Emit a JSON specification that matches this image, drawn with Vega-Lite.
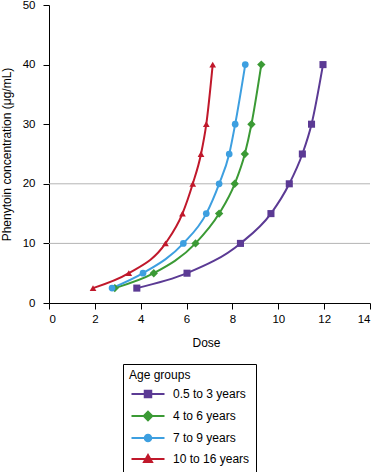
{
  "$schema": "https://vega.github.io/schema/vega-lite/v6.json",
  "width": 321,
  "height": 298,
  "autosize": {"type": "none"},
  "padding": {"left": 49, "top": 5, "right": 7, "bottom": 169},
  "background": "white",
  "config": {
    "font": "Liberation Sans",
    "view": {"stroke": null},
    "axis": {
      "domainColor": "black",
      "tickColor": "black",
      "labelColor": "black",
      "titleColor": "black",
      "labelFontSize": 11.5,
      "titleFontSize": 12,
      "titleFontWeight": "normal",
      "grid": false,
      "tickSize": 6
    },
    "legend": {
      "orient": "none",
      "legendX": 74,
      "legendY": 359,
      "titleFontSize": 12,
      "titleFontWeight": "normal",
      "titleColor": "black",
      "labelFontSize": 12,
      "labelColor": "black",
      "strokeColor": "black",
      "padding": 6,
      "symbolSize": 100,
      "symbolOffset": 13,
      "labelOffset": 19,
      "rowPadding": 5,
      "titlePadding": 6,
      "symbolStrokeWidth": 2
    }
  },
  "datasets": {
    "curves": [
      {"group": "0.5 to 3 years", "dose": 3.83, "conc": 2.5},
      {"group": "0.5 to 3 years", "dose": 6.02, "conc": 5},
      {"group": "0.5 to 3 years", "dose": 8.35, "conc": 10},
      {"group": "0.5 to 3 years", "dose": 9.68, "conc": 15},
      {"group": "0.5 to 3 years", "dose": 10.48, "conc": 20},
      {"group": "0.5 to 3 years", "dose": 11.05, "conc": 25},
      {"group": "0.5 to 3 years", "dose": 11.45, "conc": 30},
      {"group": "0.5 to 3 years", "dose": 11.95, "conc": 40},
      {"group": "4 to 6 years", "dose": 2.87, "conc": 2.5},
      {"group": "4 to 6 years", "dose": 4.57, "conc": 5},
      {"group": "4 to 6 years", "dose": 6.39, "conc": 10},
      {"group": "4 to 6 years", "dose": 7.42, "conc": 15},
      {"group": "4 to 6 years", "dose": 8.1, "conc": 20},
      {"group": "4 to 6 years", "dose": 8.54, "conc": 25},
      {"group": "4 to 6 years", "dose": 8.83, "conc": 30},
      {"group": "4 to 6 years", "dose": 9.26, "conc": 40},
      {"group": "7 to 9 years", "dose": 2.75, "conc": 2.5},
      {"group": "7 to 9 years", "dose": 4.1, "conc": 5},
      {"group": "7 to 9 years", "dose": 5.86, "conc": 10},
      {"group": "7 to 9 years", "dose": 6.86, "conc": 15},
      {"group": "7 to 9 years", "dose": 7.42, "conc": 20},
      {"group": "7 to 9 years", "dose": 7.86, "conc": 25},
      {"group": "7 to 9 years", "dose": 8.12, "conc": 30},
      {"group": "7 to 9 years", "dose": 8.56, "conc": 40},
      {"group": "10 to 16 years", "dose": 1.92, "conc": 2.5},
      {"group": "10 to 16 years", "dose": 3.48, "conc": 5},
      {"group": "10 to 16 years", "dose": 5.08, "conc": 10},
      {"group": "10 to 16 years", "dose": 5.82, "conc": 15},
      {"group": "10 to 16 years", "dose": 6.27, "conc": 20},
      {"group": "10 to 16 years", "dose": 6.63, "conc": 25},
      {"group": "10 to 16 years", "dose": 6.86, "conc": 30},
      {"group": "10 to 16 years", "dose": 7.14, "conc": 40}
    ],
    "ranges": [{"c": 10}, {"c": 20}]
  },
  "encoding": {
    "x": {"field": "dose", "type": "quantitative", "title": "Dose", "scale": {"domain": [0, 14], "nice": false}, "axis": {"values": [0, 2, 4, 6, 8, 10, 12, 14], "labelPadding": 4, "titlePadding": 13, "titleX": 157}},
    "y": {"field": "conc", "type": "quantitative", "title": "Phenytoin concentration (μg/mL)", "scale": {"domain": [0, 50], "nice": false}, "axis": {"values": [0, 10, 20, 30, 40, 50], "labelPadding": 8, "titlePadding": 9}}
  },
  "layer": [
    {
      "data": {"name": "ranges"},
      "mark": {"type": "rule", "color": "#b4b4b4", "strokeWidth": 1},
      "encoding": {
        "x": null,
        "y": {"field": "c", "type": "quantitative", "title": "Phenytoin concentration (μg/mL)"}
      }
    },
    {
      "data": {"name": "curves"},
      "mark": {"type": "line", "interpolate": "monotone", "strokeWidth": 2},
      "encoding": {
        "order": {"field": "dose", "type": "quantitative"},
        "color": {
          "field": "group",
          "type": "nominal",
          "scale": {"domain": ["0.5 to 3 years", "4 to 6 years", "7 to 9 years", "10 to 16 years"], "range": ["#5b3a94", "#3b9a35", "#3d9fe0", "#c0182b"]},
          "legend": {
            "title": "Age groups",
            "symbolType": "stroke",
            "encode": {
              "symbols": {
                "update": {
                  "shape": {"signal": "datum.value == '0.5 to 3 years' ? 'M-3.3,0H3.3M-0.65,-0.65H0.65V0.65H-0.65Z' : datum.value == '4 to 6 years' ? 'M-3.3,0H3.3M0,-0.85L0.85,0L0,0.85L-0.85,0Z' : datum.value == '7 to 9 years' ? 'M-3.3,0H3.3M0.65,0A0.65,0.65,0,1,1,-0.65,0A0.65,0.65,0,1,1,0.65,0Z' : 'M-3.3,0H3.3M0,-0.8L0.8,0.6H-0.8Z'"},
                  "fill": {"signal": "scale('color', datum.value)"},
                  "stroke": {"signal": "scale('color', datum.value)"},
                  "strokeWidth": {"value": 2},
                  "opacity": {"value": 1}
                }
              }
            }
          }
        }
      }
    },
    {
      "data": {"name": "curves"},
      "transform": [{"filter": "datum.group == '0.5 to 3 years'"}],
      "mark": {"type": "point", "filled": true, "opacity": 1, "shape": "square", "size": 50},
      "encoding": {"color": {"field": "group", "type": "nominal"}}
    },
    {
      "data": {"name": "curves"},
      "transform": [{"filter": "datum.group == '4 to 6 years'"}],
      "mark": {"type": "point", "filled": true, "opacity": 1, "shape": "diamond", "size": 70},
      "encoding": {"color": {"field": "group", "type": "nominal"}}
    },
    {
      "data": {"name": "curves"},
      "transform": [{"filter": "datum.group == '7 to 9 years'"}],
      "mark": {"type": "point", "filled": true, "opacity": 1, "shape": "circle", "size": 45},
      "encoding": {"color": {"field": "group", "type": "nominal"}}
    },
    {
      "data": {"name": "curves"},
      "transform": [{"filter": "datum.group == '10 to 16 years'"}],
      "mark": {"type": "point", "filled": true, "opacity": 1, "shape": "triangle-up", "size": 45},
      "encoding": {"color": {"field": "group", "type": "nominal"}}
    }
  ]
}
